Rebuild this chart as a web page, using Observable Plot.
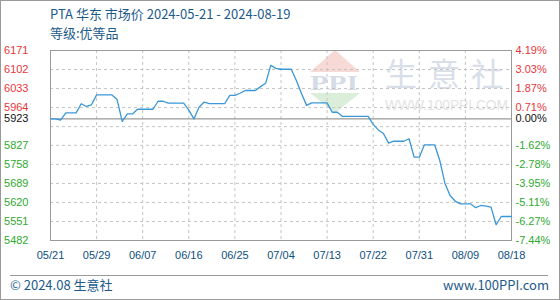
<!DOCTYPE html>
<html><head><meta charset="utf-8">
<script src="https://cdn.jsdelivr.net/npm/d3@7"></script>
<script src="https://cdn.jsdelivr.net/npm/@observablehq/plot@0.6"></script>
<style>
body{margin:0;background:#fff;}
#wrap{position:relative;width:560px;height:300px;overflow:hidden;font-family:"Noto Sans CJK SC","Noto Sans",sans-serif;background:#fff;}
.abs{position:absolute;white-space:nowrap;}
#title{left:50px;top:6px;font-size:13px;line-height:16px;color:#1c5a8a;}
#sub{left:50px;top:25px;font-size:13px;line-height:16px;color:#1c5a8a;}
#chart{position:absolute;left:0;top:40px;}
#sep{position:absolute;left:10px;top:275px;width:538px;height:0;border-top:1px solid #9a9a9a;}
#copy{left:10px;top:277px;font-size:13px;line-height:16px;color:#1c5a8a;}
#site{right:11px;top:277px;font-size:13px;line-height:16px;color:#1c5a8a;}
#border{position:absolute;left:0;top:0;width:558px;height:298px;border:1px solid #9a9a9a;pointer-events:none;}
#wm{position:absolute;left:0;top:0;}
</style></head><body>
<div id="wrap">
  <svg id="wm" width="560" height="300">
    <polygon points="335,50 310,72 360,72" fill="#f7dad5"/>
    <text x="310" y="90" textLength="48" lengthAdjust="spacingAndGlyphs" font-family="Liberation Serif" font-weight="bold" font-size="20" fill="#d6dbe8">PPI</text>
    <polygon points="310,93 360,93 335,113" fill="#daeeda"/>
    <text x="385" y="86" font-size="32" textLength="118" lengthAdjust="spacing" fill="#d9dee9" font-family="Noto Sans CJK SC">生意社</text>
    <text x="385" y="110" textLength="123" lengthAdjust="spacingAndGlyphs" font-size="14" fill="#e3e3e3" font-family="Liberation Sans">WWW.100PPI.COM</text>
  </svg>
  <div id="title" class="abs">PTA 华东 市场价 2024-05-21 - 2024-08-19</div>
  <div id="sub" class="abs">等级:优等品</div>
  <div id="chart"></div>
  <div id="sep"></div>
  <div id="copy" class="abs">© 2024.08 生意社</div>
  <div id="site" class="abs">www.100PPI.com</div>
  <div id="border"></div>
</div>
<script>
const startDate = "2024-05-21";
const endDate = "2024-08-19";
const prices = [
  5923,5923,5919,5945,5945,5945,5978,5968,5974,6010,
  6010,6010,6010,5993,5914,5941,5941,5958,5958,5958,
  5958,5987,5987,5980,5980,5980,5980,5955,5923,5965,
  5984,5978,5978,5978,5978,6008,6008,6016,6026,6026,
  6026,6040,6052,6117,6106,6103,6103,6103,6062,6015,
  5972,5981,5981,5981,5981,5947,5947,5932,5932,5932,
  5932,5932,5932,5903,5883,5870,5835,5842,5842,5842,
  5851,5784,5784,5829,5829,5829,5772,5690,5645,5625,
  5615,5615,5615,5601,5609,5607,5603,5539,5569,5569,
  5569
];
const baseValue = 5923;
const yTickValues = [6171,6102,6033,5964,5923,5827,5758,5689,5620,5551,5482];
const yPctLabels = ["4.19%","3.03%","1.87%","0.71%","0.00%","-1.62%","-2.78%","-3.95%","-5.11%","-6.27%","-7.44%"];
const gridValues = [6171,6102,6033,5964,5895,5827,5758,5689,5620,5551,5482];
const xTickLabels = ["05/21","05/29","06/07","06/16","06/25","07/04","07/13","07/22","07/31","08/09","08/18"];

const start = new Date(startDate);
const end = new Date(endDate);
const data = prices.map((v, i) => ({date: d3.utcDay.offset(start, i), v}));
const xTicks = xTickLabels.map((_, k) => d3.utcDay.offset(start, 9 * k));
const yTicks = yTickValues.map((v, i) => ({v, pct: yPctLabels[i]}));

const RED = "#e8363a", GREEN = "#2fa92f", BLACK = "#111";
const lblFont = {fontSize: 11, fontFamily: "Liberation Sans, Arial, sans-serif"};

const chart = Plot.plot({
  width: 560, height: 235,
  marginLeft: 50, marginRight: 49, marginTop: 10, marginBottom: 35,
  style: {background: "transparent", overflow: "visible"},
  x: {type: "utc", domain: [start, end], axis: null},
  y: {domain: [5482, 6171], axis: null},
  marks: [
    Plot.ruleY(gridValues, {stroke: "#c4c4c4", strokeDasharray: "3,3"}),
    Plot.ruleX(xTicks, {stroke: "#c4c4c4", strokeDasharray: "3,3"}),
    Plot.ruleY([baseValue], {stroke: "#999", strokeWidth: 1.2}),
    Plot.frame({stroke: "#9a9a9a"}),
    Plot.line(data, {x: "date", y: "v", stroke: "#3b97d7", strokeWidth: 1.3}),
    Plot.text(yTicks.filter(d => d.v > baseValue), {y: "v", text: d => String(d.v), frameAnchor: "left", dx: -22, textAnchor: "end", fill: RED, ...lblFont}),
    Plot.text(yTicks.filter(d => d.v === baseValue), {y: "v", text: d => String(d.v), frameAnchor: "left", dx: -22, textAnchor: "end", fill: BLACK, ...lblFont}),
    Plot.text(yTicks.filter(d => d.v < baseValue), {y: "v", text: d => String(d.v), frameAnchor: "left", dx: -22, textAnchor: "end", fill: GREEN, ...lblFont}),
    Plot.text(yTicks.filter(d => d.v > baseValue), {y: "v", text: "pct", frameAnchor: "right", dx: 4, textAnchor: "start", fill: RED, ...lblFont}),
    Plot.text(yTicks.filter(d => d.v === baseValue), {y: "v", text: "pct", frameAnchor: "right", dx: 4, textAnchor: "start", fill: BLACK, ...lblFont}),
    Plot.text(yTicks.filter(d => d.v < baseValue), {y: "v", text: "pct", frameAnchor: "right", dx: 4, textAnchor: "start", fill: GREEN, ...lblFont}),
    Plot.axisX({ticks: xTicks, tickFormat: (d, i) => xTickLabels[i], tickSize: 0, tickPadding: 11, fill: "#0e4f7e", ...lblFont, label: null})
  ]
});
document.getElementById("chart").appendChild(chart);
</script>
</body></html>
